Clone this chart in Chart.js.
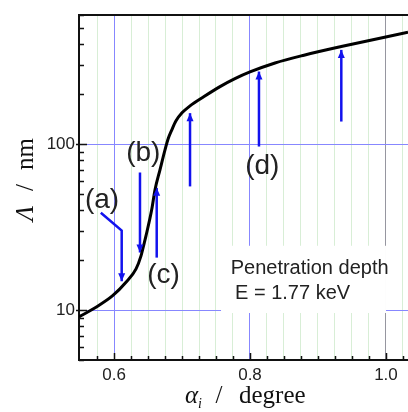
<!DOCTYPE html>
<html>
<head>
<meta charset="utf-8">
<script src="https://cdn.jsdelivr.net/npm/chart.js@4/dist/chart.umd.min.js"></script>
<style>
  html, body { margin: 0; padding: 0; background: #fff; overflow: hidden; }
  #wrap { width: 408px; height: 412px; }
</style>
</head>
<body>
<div id="wrap"><canvas id="chart" width="408" height="412"></canvas></div>
<script>
// curve: penetration depth vs incidence angle
const alphaDeg = [0.5485, 0.5735, 0.598, 0.6176, 0.6324, 0.6397, 0.6446, 0.6471, 0.6554, 0.6603, 0.6676, 0.675, 0.680, 0.685, 0.6912, 0.700, 0.7118, 0.7324, 0.7559, 0.7779, 0.800, 0.8368, 0.8794, 0.9343, 1.0324];
const depthNm = [9.1, 10.4, 12.2, 14.7, 17.7, 21.2, 25.5, 28.1, 40.2, 53.1, 70.0, 92.4, 108.7, 121.9, 138.2, 154.3, 170.1, 193.5, 222.0, 248.0, 272.2, 308.4, 343.6, 387.3, 472.2];

// arrows (data coords), last point is the tip
const arrowAX = [0.5806, 0.6113, 0.6113];
const arrowAY = [38.6, 30.1, 14.9];
const arrowBX = [0.6382, 0.6382];
const arrowBY = [67.4, 22.2];
const arrowCX = [0.6628, 0.6628];
const arrowCY = [20.7, 54.5];
const arrow4X = [0.7118, 0.7118];
const arrow4Y = [55.6, 153.7];
const arrowDX = [0.8132, 0.8132];
const arrowDY = [96.7, 273.6];
const arrow6X = [0.9343, 0.9343];
const arrow6Y = [136.8, 369.8];

// axes
const xMajorTicks = [0.6, 0.8, 1.0];
const xTickLabels = ["0.6", "0.8", "1.0"];
const xMinorStep = 0.025;
const yTickValues = [5, 6, 7, 8, 9, 10, 20, 30, 40, 50, 60, 70, 80, 90, 100, 200, 300, 400, 500, 600];
const yLabelled = [10, 100];

// annotation texts
const pointLabels = ["(a)", "(b)", "(c)", "(d)"];
const noteLines = ["Penetration depth", "E = 1.77 keV"];

const SANS = "'Liberation Sans', Arial, sans-serif";
const SERIF = "'Liberation Serif', 'Times New Roman', serif";
const BLUE_GRID = "rgb(135,135,255)";
const ARROW_BLUE = "#1212ee";

// label positions in data space (separate from the data)
const labelPos = [
    { x: 0.5824, y: 41.3 },
    { x: 0.6431, y: 79.6 },
    { x: 0.6728, y: 14.6 },
    { x: 0.8181, y: 66.2 }
];
const notePos = [
    { x: 0.7716, y: 16.5 },
    { x: 0.778, y: 11.6 }
];
const noteBox = { x0: 0.7574, x1: 1.0, y0: 9.6, y1: 24.4 };

function toPoints(xs, ys) {
    return xs.map((x, i) => ({ x: x, y: ys[i] }));
}

const xTicks = [];
for (let v = 0.575; v < 1.03; v += xMinorStep) {
    xTicks.push(Math.round(v * 1000) / 1000);
}
function isMajorX(v) {
    return xMajorTicks.some(m => Math.abs(m - v) < 1e-6);
}

function arrowSet(xs, ys) {
    return {
        data: toPoints(xs, ys),
        borderColor: ARROW_BLUE,
        borderWidth: 2.5,
        pointRadius: 0,
        tension: 0,
        arrow: true
    };
}

// white note box, labels, arrow heads, inward ticks, titles
const extrasPlugin = {
    id: "extras",
    beforeDatasetsDraw(chart) {
        const { ctx, scales: { x, y } } = chart;
        const bx0 = x.getPixelForValue(noteBox.x0), bx1 = x.getPixelForValue(noteBox.x1);
        const by0 = y.getPixelForValue(noteBox.y1), by1 = y.getPixelForValue(noteBox.y0);
        ctx.save();
        ctx.fillStyle = "#fff";
        ctx.fillRect(bx0, by0, bx1 - bx0, by1 - by0);
        ctx.fillStyle = "#222";
        ctx.font = "20px " + SANS;
        ctx.textAlign = "left";
        ctx.textBaseline = "alphabetic";
        noteLines.forEach((t, i) => {
            ctx.fillText(t, x.getPixelForValue(notePos[i].x), y.getPixelForValue(notePos[i].y));
        });
        ctx.restore();
    },
    afterDatasetsDraw(chart) {
        const { ctx, chartArea, scales: { x, y } } = chart;
        ctx.save();
        // arrow heads
        chart.data.datasets.forEach((ds, i) => {
            if (!ds.arrow) return;
            const pts = chart.getDatasetMeta(i).data;
            const tip = pts[pts.length - 1], prev = pts[pts.length - 2];
            const ang = Math.atan2(tip.y - prev.y, tip.x - prev.x);
            const len = 8, hw = 3.5;
            ctx.fillStyle = ARROW_BLUE;
            ctx.beginPath();
            ctx.moveTo(tip.x, tip.y);
            ctx.lineTo(tip.x - len * Math.cos(ang) + hw * Math.sin(ang), tip.y - len * Math.sin(ang) - hw * Math.cos(ang));
            ctx.lineTo(tip.x - len * Math.cos(ang) - hw * Math.sin(ang), tip.y - len * Math.sin(ang) + hw * Math.cos(ang));
            ctx.closePath();
            ctx.fill();
        });

        // (a)..(d)
        ctx.fillStyle = "#222";
        ctx.font = "28px " + SANS;
        ctx.textAlign = "center";
        ctx.textBaseline = "alphabetic";
        pointLabels.forEach((t, i) => {
            ctx.fillText(t, x.getPixelForValue(labelPos[i].x), y.getPixelForValue(labelPos[i].y));
        });

        // top frame line
        ctx.strokeStyle = "#111";
        ctx.lineWidth = 2;
        ctx.beginPath();
        ctx.moveTo(chartArea.left - 1, chartArea.top);
        ctx.lineTo(chartArea.right, chartArea.top);
        ctx.stroke();

        // inward ticks
        ctx.lineWidth = 1.5;
        ctx.beginPath();
        yTickValues.forEach(v => {
            const py = Math.round(y.getPixelForValue(v)) + 0.5;
            const major = yLabelled.includes(v);
            ctx.moveTo(chartArea.left - (major ? 3 : 0), py);
            ctx.lineTo(chartArea.left + (major ? 8 : 5), py);
        });
        xTicks.forEach(v => {
            const px = Math.round(x.getPixelForValue(v)) + 0.5;
            const len = isMajorX(v) ? 7 : 4;
            ctx.moveTo(px, chartArea.bottom);
            ctx.lineTo(px, chartArea.bottom - len);
        });
        ctx.stroke();

        // x title: alpha_i / degree
        ctx.fillStyle = "#111";
        ctx.textAlign = "left";
        ctx.font = "italic 25px " + SERIF;
        ctx.fillText("\u03B1", 185, 403);
        ctx.font = "italic 14px " + SERIF;
        ctx.fillText("i", 198, 408);
        ctx.font = "25px " + SERIF;
        ctx.textAlign = "center";
        ctx.fillText("/", 219, 403);
        ctx.textAlign = "left";
        ctx.fillText("degree", 239, 403);

        // y title: Lambda / nm (rotated)
        ctx.translate(33, 0);
        ctx.rotate(-Math.PI / 2);
        ctx.font = "italic 25px " + SERIF;
        ctx.textAlign = "left";
        ctx.fillText("\u039B", -221, 0);
        ctx.font = "25px " + SERIF;
        ctx.textAlign = "center";
        ctx.fillText("/", -187.5, 0);
        ctx.textAlign = "left";
        ctx.fillText("nm", -170, 0);
        ctx.restore();
    }
};

new Chart(document.getElementById("chart").getContext("2d"), {
    type: "line",
    data: {
        datasets: [
            {
                data: toPoints(alphaDeg, depthNm),
                borderColor: "#000",
                borderWidth: 3,
                pointRadius: 0,
                cubicInterpolationMode: "monotone"
            },
            arrowSet(arrowAX, arrowAY),
            arrowSet(arrowBX, arrowBY),
            arrowSet(arrowCX, arrowCY),
            arrowSet(arrow4X, arrow4Y),
            arrowSet(arrowDX, arrowDY),
            arrowSet(arrow6X, arrow6Y)
        ]
    },
    options: {
        responsive: false,
        animation: false,
        layout: { padding: { top: 15, right: 0, left: 0, bottom: 0 } },
        plugins: { legend: { display: false }, tooltip: { enabled: false } },
        scales: {
            x: {
                type: "linear",
                min: 0.5485,
                max: 1.0324,
                afterBuildTicks: (scale) => { scale.ticks = xTicks.map(v => ({ value: v })); },
                afterFit: (scale) => { scale.height = 52; },
                ticks: {
                    autoSkip: false,
                    maxRotation: 0,
                    padding: 5,
                    color: "#222",
                    font: { family: SANS, size: 17 },
                    callback: (v) => {
                        const k = xMajorTicks.findIndex(m => Math.abs(m - v) < 1e-6);
                        return k >= 0 ? xTickLabels[k] : "";
                    }
                },
                grid: {
                    drawTicks: false,
                    lineWidth: 1,
                    color: (c) => {
                        const v = c.tick ? c.tick.value : null;
                        if (v === null) return "rgba(0,0,0,0)";
                        if (Math.abs(v - 1.0) < 1e-6) return "rgb(150,150,160)";
                        if (isMajorX(v)) return BLUE_GRID;
                        return "rgb(216,238,214)";
                    }
                },
                border: { display: true, color: "#111", width: 2 }
            },
            y: {
                type: "logarithmic",
                min: 5,
                max: 600,
                afterBuildTicks: (scale) => { scale.ticks = yTickValues.map(v => ({ value: v })); },
                afterFit: (scale) => { scale.width = 79; },
                ticks: {
                    autoSkip: false,
                    padding: 4,
                    color: "#222",
                    font: { family: SANS, size: 17 },
                    callback: (v) => yLabelled.includes(v) ? String(v) : ""
                },
                grid: {
                    drawTicks: false,
                    lineWidth: 1,
                    color: (c) => (c.tick && yLabelled.includes(c.tick.value)) ? BLUE_GRID : "rgba(0,0,0,0)"
                },
                border: { display: true, color: "#111", width: 2 }
            }
        }
    },
    plugins: [extrasPlugin]
});
</script>
</body>
</html>
